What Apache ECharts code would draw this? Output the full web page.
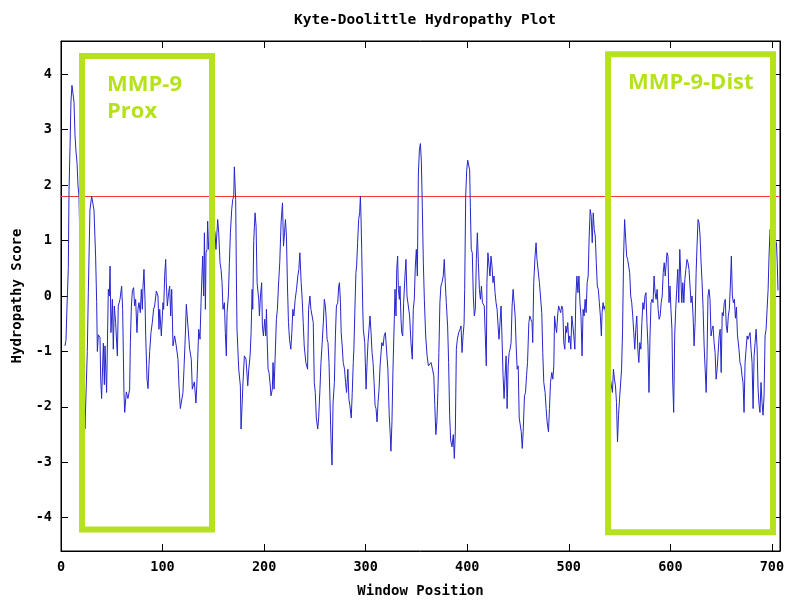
<!DOCTYPE html>
<html>
<head>
<meta charset="utf-8">
<title>Kyte-Doolittle Hydropathy Plot</title>
<script src="https://cdn.jsdelivr.net/npm/echarts@6/dist/echarts.min.js"></script>
<style>
  html, body { margin: 0; padding: 0; background: #fff; }
  #chart { width: 795px; height: 603px; }
</style>
</head>
<body>
<div id="chart"></div>
<script>
// window centre positions and their Kyte-Doolittle scores
const positions = [
  3.9, 4.9, 5.9, 7.2, 7.9, 8.9, 9.8, 10.8, 11.8, 12.8, 13.8, 14.8, 15.8, 16.7, 17.7, 19, 21, 23, 23.6, 24.9,
  25.9, 26.9, 28.5, 30.2, 31.2, 32.5, 34.1, 35.1, 35.8, 36.8, 38.4, 39.1, 40, 41.7, 42.7, 43.3, 44.9, 46.6, 47.6, 48.3,
  49.2, 50.6, 51.5, 52.5, 53.8, 55.5, 56.4, 58.1, 59.7, 60.7, 62, 62.7, 64.3, 65.9, 67.6, 68.3, 69.3, 70.3, 71.5, 72.5,
  73.5, 74.8, 75.8, 76.8, 78.1, 79.1, 80.1, 80.7, 81.7, 82.7, 83.4, 84.7, 85.7, 86.6, 87.3, 88.6, 89.9, 91.2, 92.2, 93.9,
  95.5, 96.5, 97.2, 98.8, 99.8, 100.4, 101.1, 102.1, 103.1, 103.7, 104.7, 106, 107, 108, 109, 110.3, 111.9, 113.5, 115.2, 116.2,
  117.5, 118.5, 120.1, 121.1, 122.4, 123.4, 125, 126.7, 128.3, 129.3, 131.3, 132.9, 133.9, 134.6, 135.6, 136.9, 137.9, 139.5, 140.5, 141.2,
  142.2, 142.8, 143.8, 144.4, 145.4, 147.7, 150, 151.7, 152.6, 154.3, 155.3, 156.6, 157.6, 158.6, 159.5, 160.9, 161.8, 162.8, 163.5, 164.8,
  165.8, 166.8, 168.1, 169.1, 170.1, 170.7, 171.4, 172, 172.7, 173.3, 174, 175, 176.6, 177.3, 178.3, 179.2, 180.6, 182.2, 183.9, 184.9,
  186.2, 187.2, 188.2, 188.8, 189.8, 191.1, 192.1, 193.1, 194.7, 195.4, 196.4, 197.6, 198.3, 199.3, 200.6, 201.6, 202.3, 202.9, 203.9, 204.8,
  205.8, 206.8, 208.1, 208.8, 209.8, 210.8, 212.1, 213.1, 214.1, 215.4, 216.7, 218.1, 219.1, 220.1, 221, 222, 223, 224, 225, 226.3,
  227.3, 228.3, 229.3, 230.6, 231.9, 233.2, 234.2, 235.2, 236.5, 237.5, 238.5, 239.5, 241.1, 242.8, 243.8, 245.1, 246.1, 247.1, 248.4, 249.4,
  250.4, 251.4, 252.8, 253.7, 255, 256, 257, 258.3, 259.3, 260.3, 261, 262, 262.9, 263.9, 264.9, 265.9, 266.9, 267.9, 269.2, 270.2,
  271.2, 272.5, 273.5, 274.2, 275.2, 275.9, 276.9, 277.9, 279.2, 280.2, 281.2, 282.5, 283.5, 284.5, 285.8, 286.8, 287.8, 288.4, 289.4, 290.4,
  291.1, 292.1, 293.1, 294.1, 294.8, 295.4, 296.1, 297.1, 297.7, 299.1, 300.4, 301.4, 302.3, 303.3, 304.3, 305.3, 306.3, 307.3, 308.3, 309.3,
  310.2, 311.2, 312.2, 313.2, 314.2, 315.9, 317.2, 318.2, 319.4, 320.7, 321.9, 323.2, 324.2, 324.9, 325.9, 326.9, 328.2, 328.9, 329.9, 330.6,
  331.5, 332.2, 333.2, 333.8, 334.8, 335.5, 336.5, 337.4, 338.7, 339.7, 340.7, 342, 343.3, 344.6, 345.9, 346.9, 347.9, 348.9, 349.9, 350.9,
  351.9, 352.9, 353.9, 354.8, 355.8, 356.8, 357.8, 359.1, 360.5, 361.8, 363.5, 364.4, 365.8, 367.1, 368.1, 369.1, 370.1, 371.1, 372.1, 373.1,
  374.1, 375.1, 376.4, 377.4, 378.4, 379.4, 380.7, 381.7, 382.7, 383.7, 385, 386.3, 387.3, 388.3, 389.3, 390.3, 391.6, 393, 393.9, 394.9,
  395.9, 396.9, 397.5, 398.5, 399.5, 400.5, 401.5, 402.4, 403.1, 404, 405, 406, 407, 408, 409, 410, 411, 412, 413, 414,
  415, 416.8, 417.8, 418.8, 419.4, 420.4, 421.4, 422.4, 423.4, 424.4, 425.4, 426.4, 427.4, 428.4, 429.4, 430.4, 431.3, 432.3, 433.3, 434.3,
  435.3, 436.3, 437.3, 438.3, 439.3, 440.3, 441.3, 442.2, 443.2, 444.2, 445.2, 446.2, 447.2, 448.2, 449.2, 450.2, 451.2, 452.2, 453.2, 454.2,
  455.1, 456.4, 457.4, 458.4, 459.4, 460.7, 461.7, 462.7, 463.8, 464.5, 465.5, 466.8, 467.8, 468.7, 470, 471.1, 472, 473.4, 474.4, 475.4,
  476.7, 477.7, 478.7, 480, 481, 482, 483.3, 484.3, 485.3, 486, 487, 488, 489, 490, 491, 492, 493.1, 494.1, 495.1, 496.1,
  497.1, 498, 499, 500, 501, 502, 503, 504, 505, 506, 507, 508, 509, 510, 511, 512, 513.1, 514.1, 515.1, 516.1,
  517.1, 518.1, 519.1, 520.1, 521.1, 522.1, 523.1, 524.1, 525.1, 526.1, 527.1, 528.1, 529.1, 530.1, 531.1, 532.1, 532.8, 533.8, 534.7, 535.7,
  537, 539, 541, 543, 544, 545, 546, 547, 548, 549, 550, 551, 552, 553, 554, 555, 556, 557, 558, 559,
  560, 561, 562, 563, 564, 565, 566, 567, 568, 569, 570, 571, 572, 573, 574, 575, 576, 577, 578, 579,
  580, 581, 582, 583, 584, 585, 586, 587, 588, 589, 590, 591, 592, 593, 594, 595, 596.7, 597.7, 598.7, 599.7,
  600.6, 601.6, 602.3, 603.3, 604.3, 605.3, 606.3, 607.3, 608.3, 609.3, 610.3, 611.3, 612.3, 613.3, 614.3, 615.3, 616.4, 617.4, 618.4, 619.4,
  620.4, 621.4, 622.4, 623.4, 624.4, 625.4, 626.3, 627.3, 628.3, 629.3, 630.3, 631.3, 632.3, 633.3, 634.3, 635.3, 636.1, 637.1, 638.1, 639.1,
  640.1, 641.1, 642.1, 643.1, 644.1, 645.1, 646.1, 647.1, 648.1, 649.1, 650.1, 651.1, 652.1, 653.1, 654.1, 655.1, 656.1, 657.1, 658.1, 659.1,
  660.1, 661.1, 662.1, 663.1, 664.1, 665.1, 666.1, 667.6, 668.6, 669.6, 670.6, 671.6, 672.6, 673.6, 674.6, 675.6, 676.5, 677.5, 678.5, 679.5,
  680.5, 681.5, 682.5, 683.5, 684.5, 685.5, 686.4, 687.4, 688.3, 689.3, 690.3, 691.3, 692.3, 693.3, 694.3, 695.3, 696.3, 697.2, 698.2, 700,
  701.5, 703.5, 704.5, 705.3, 706
];
const scores = [
  -0.9, -0.8, -0.2, 0.5, 1.9, 2.7, 3.5, 3.8, 3.8, 3.5, 2.9, 2.6, 2.4, 2.0, 1.8, 0.6, -0.8, -2.0, -2.4, -2.4,
  -1.0, 0.06, 1.55, 1.8, 1.8, 1.55, 0.7, -0.1, -1.0, -0.7, -0.75, -1.5, -1.85, -0.85, -1.6, -0.9, -1.74, 0.12, 0, 0.54,
  -0.66, -0.06, -0.96, -0.18, -0.48, -1.08, -0.18, -0.06, 0.18, -0.24, -1.74, -2.1, -1.73, -1.85, -1.68, -0.84, -0.18, 0.1, 0.15, -0.18,
  -0.06, -0.66, -0.24, -0.12, -0.3, 0.12, -0.24, 0.15, 0.48, -0.06, -0.72, -1.5, -1.67, -1.25, -1.0, -0.66, -0.48, -0.24, -0.18, 0.09,
  0, -0.6, -0.24, -0.72, -0.36, -0.12, -0.24, 0.36, 0.66, 0.24, -0.18, 0.06, 0.18, -0.36, 0.12, -0.9, -0.72, -0.9, -1.14, -1.62,
  -2.03, -2.03, -1.74, -1.32, -0.72, -0.15, -0.15, -0.96, -1.14, -1.68, -1.55, -1.93, -1.55, -1.14, -0.6, -0.78, -0.12, 0.72, 0, 1.14,
  -0.24, 0.78, 0.84, 1.35, 0.84, 1.0, 1.3, 1.14, 0.84, 1.38, 1.14, 0.6, 0.48, 0.24, -0.24, -0.12, -0.66, -1.08, -0.3, 0,
  0.6, 1.14, 1.56, 1.74, 1.8, 2.33, 2.33, 1.74, 0.36, -0.6, -0.9, -1.32, -1.62, -2.4, -1.98, -1.56, -1.08, -1.14, -1.62, -1.32,
  -1.08, -0.66, 0.12, -0.24, 1.0, 1.5, 1.26, 0.24, -0.06, -0.36, 0, 0.24, -0.54, -0.72, -0.42, -0.72, -0.24, -0.72, -1.32, -1.38,
  -1.56, -1.8, -1.68, -1.2, -1.68, -1.14, -0.42, -0.24, 0.18, 0.6, 1.32, 1.68, 0.9, 1.14, 1.38, 1.08, 0.18, -0.48, -0.78, -0.96,
  -0.66, -0.24, -0.36, -0.06, 0.12, 0.36, 0.48, 0.78, 0.24, -0.06, -0.48, -0.9, -1.2, -1.32, -0.24, 0, -0.24, -0.24, -0.48, -1.56,
  -1.74, -2.2, -2.4, -2.2, -1.68, -1.2, -0.9, -0.48, -0.06, -0.18, -0.36, -0.78, -0.84, -1.2, -1.9, -2.6, -3.05, -1.93, -1.56, -0.72,
  -0.18, -0.12, 0.18, 0.24, -0.12, -0.66, -0.9, -1.2, -1.32, -1.56, -1.74, -1.32, -1.86, -1.98, -2.2, -1.74, -1.2, -0.96, -0.24, 0.42,
  0.54, 0.96, 1.38, 1.5, 1.8, 1.44, 0.84, -0.18, -0.6, -0.84, -1.68, -1.2, -0.84, -0.6, -0.36, -0.66, -1.02, -1.2, -1.56, -1.98,
  -2.03, -2.27, -1.92, -1.68, -1.26, -0.84, -0.9, -0.72, -0.66, -0.66, -1.32, -2.15, -2.5, -2.8, -2.27, -1.32, -0.42, 0.12, -0.36, 0.48,
  0.72, 0.12, -0.06, 0.18, -0.42, -0.66, -0.72, -0.12, 0.36, 0.66, 0, 0, -0.36, -0.84, -1.14, -0.24, -0.06, 0.54, 0.84, 0.36,
  2.2, 2.63, 2.75, 2.45, 1.62, 0.6, -0.06, -0.72, -1.08, -1.26, -1.26, -1.2, -1.32, -1.44, -1.98, -2.5, -2.27, -1.74, -1.02, -0.12,
  0.18, 0.24, 0.36, 0.66, 0.24, -0.12, -0.54, -1.2, -2.15, -2.6, -2.72, -2.5, -2.93, -2.45, -0.96, -0.78, -0.66, -0.6, -0.54, -1.02,
  -0.72, -0.5, 0.12, 1.8, 2.27, 2.45, 2.45, 2.27, 1.6, 0.84, 0.78, 0, -0.36, -0.24, 0.66, 1.14, 0.6, 0.12, -0.06, 0.18,
  -0.12, -0.18, -0.72, -1.26, 0.24, 0.78, 0.81, 0.36, 0.72, 0.54, 0.24, 0.36, 0.06, -0.12, -0.24, -0.54, -0.78, -0.48, -0.18, -0.78,
  -1.44, -1.85, -1.44, -1.08, -2.03, -1.26, -1.02, -0.96, -0.84, -0.18, 0.12, -0.12, -0.36, -0.9, -1.32, -1.26, -2.2, -2.2, -2.45, -2.75,
  -2.45, -1.8, -1.74, -1.44, -1.2, -0.48, -0.36, -0.42, -0.48, -0.84, 0.24, 0.72, 0.96, 0.66, 0.66, 0.24, 0.24, -0.3, -1.02, -1.56,
  -1.74, -2.03, -2.27, -2.45, -2.03, -1.56, -1.38, -1.5, -1.26, -0.36, -0.54, -0.66, -0.36, -0.18, -0.18, -0.3, -0.18, -0.24, -0.84, -0.96,
  -0.54, -0.66, -0.48, -0.84, -0.72, -0.96, -0.36, -0.54, -0.72, -0.96, 0, 0.36, 0.06, 0.36, -0.12, -0.36, -1.08, -0.24, -0.36, -0.06,
  -0.3, 0.24, 0.36, 1.08, 1.56, 1.44, 0.96, 1.5, 1.2, 1.08, 0.6, 0.18, 0.12, -0.12, -0.36, -0.72, -0.3, -0.12, -0.24, -0.18,
  -0.6, -1.3, -1.5, -1.74, -1.32, -1.5, -1.62, -1.92, -2.63, -2.15, -1.86, -1.86, -1.32, -0.6, 0.72, 1.38, 1.38, 0.72, 0.66, 0.66,
  0.42, 0, -0.12, -0.36, -0.66, -0.96, -0.6, -0.36, -0.96, -1.2, -0.84, -0.96, -0.48, -0.12, -0.24, 0, 0.06, -0.48, -0.9, -1.74,
  -0.72, -0.12, -0.06, -0.12, 0.36, 0.06, -0.06, 0.12, -0.24, -0.42, -0.36, -0.12, 0, 0.42, 0.6, 0.36, 0.78, 0.72, -0.12, 0.18,
  -0.24, -0.6, -1.5, -2.1, -0.72, -0.24, 0.12, 0.48, -0.12, 0.84, 0.36, -0.12, 0.24, -0.12, 0.3, 0.48, 0.66, 0.6, 0.48, 0.18,
  -0.12, 0, -0.36, -0.9, -0.48, 0.42, 0.9, 1.38, 1.32, 1.08, 0.6, 0.24, -0.24, -0.9, -1.32, -1.74, -1.14, 0, 0.12, -0.06,
  -0.72, -0.6, -0.54, -0.84, -1.02, -1.5, -1.32, -1.02, -0.72, -0.6, -1.38, -0.3, -0.36, -0.12, -0.06, -0.54, -0.66, -0.36, -0.24, 0.18,
  0.72, 0, -0.12, -0.06, -0.4, -0.2, -0.7, -0.96, -1.2, -1.26, -1.44, -1.56, -2.1, -1.2, -0.96, -0.72, -0.78, -0.72, -0.66, -0.96,
  -1.2, -2.03, -1.08, -0.84, -0.6, -0.96, -1.68, -1.97, -2.1, -1.56, -1.92, -2.15, -1.8, -0.72, -0.6, -0.24, 0.12, 0.72, 1.2, 1.2,
  1.0, 1.0, 0.96, 0.6, 0.1
];

// y axis and x axis tick labels
const yTicks = [-4, -3, -2, -1, 0, 1, 2, 3, 4];
const xTicks = [0, 100, 200, 300, 400, 500, 600, 700];

// threshold line
const cutoff = 1.8;

// highlighted regions: [x start, x end, y top, y bottom]
const boxNames = ['MMP-9\nProx', 'MMP-9-Dist'];
const boxExtents = [
  [20.7, 148.7, 4.33, -4.21],
  [538.7, 701.1, 4.36, -4.26]
];

const green = '#b5e21c';
const monoFont = 'DejaVu Sans Mono';

const chart = echarts.init(document.getElementById('chart'));

const lineData = positions.map((x, i) => [x, scores[i]]);

const boxOffsets = [[23, 13], [18, 13]];
const areaData = boxExtents.map((b, i) => [
  { name: boxNames[i], coord: [b[0], b[2]], label: { offset: boxOffsets[i] } },
  { coord: [b[1], b[3]] }
]);

const frameAxis = {
  axisLine: { show: true, onZero: false, lineStyle: { color: '#000', width: 1 } },
  splitLine: { show: false }
};

chart.setOption({
  backgroundColor: '#fff',
  animation: false,
  title: {
    text: 'Kyte-Doolittle Hydropathy Plot',
    left: 420,
    top: 8,
    textAlign: 'center',
    textStyle: { fontFamily: monoFont, fontWeight: 'bold', fontSize: 14.5, color: '#000' }
  },
  grid: {
    left: 61, right: 15, top: 41, bottom: 50,
    show: true, borderColor: '#000', borderWidth: 1, backgroundColor: '#fff'
  },
  xAxis: [
    Object.assign({}, frameAxis, {
      type: 'value', min: 0, max: 708, position: 'bottom',
      name: 'Window Position', nameLocation: 'middle', nameGap: 33,
      nameTextStyle: { fontFamily: monoFont, fontWeight: 'bold', fontSize: 14, color: '#000' },
      axisTick: { inside: true, length: 7, customValues: xTicks, lineStyle: { color: '#000' } },
      axisLabel: { customValues: xTicks, margin: 9, fontFamily: monoFont, fontWeight: 'bold', fontSize: 13.5, color: '#000' }
    }),
    Object.assign({}, frameAxis, {
      type: 'value', min: 0, max: 708, position: 'top',
      axisTick: { inside: true, length: 7, customValues: xTicks, lineStyle: { color: '#000' } },
      axisLabel: { show: false }
    })
  ],
  yAxis: [
    Object.assign({}, frameAxis, {
      type: 'value', min: -4.6, max: 4.6, position: 'left',
      name: 'Hydropathy Score', nameLocation: 'middle', nameRotate: 90, nameGap: 36,
      nameTextStyle: { fontFamily: monoFont, fontWeight: 'bold', fontSize: 14, color: '#000' },
      axisTick: { inside: true, length: 7, customValues: yTicks, lineStyle: { color: '#000' } },
      axisLabel: { customValues: yTicks, margin: 9, fontFamily: monoFont, fontWeight: 'bold', fontSize: 13.5, color: '#000' }
    }),
    Object.assign({}, frameAxis, {
      type: 'value', min: -4.6, max: 4.6, position: 'right',
      axisTick: { inside: true, length: 7, customValues: yTicks, lineStyle: { color: '#000' } },
      axisLabel: { show: false }
    })
  ],
  series: [
    {
      name: 'Hydropathy',
      type: 'line',
      data: lineData,
      symbol: 'none',
      z: 3,
      lineStyle: { color: '#2626cc', width: 1 },
      markLine: {
        silent: true,
        symbol: 'none',
        z: 2,
        label: { show: false },
        lineStyle: { color: '#f03c3c', width: 1, type: 'solid' },
        data: [{ yAxis: cutoff }]
      }
    },
    {
      name: 'Regions',
      type: 'line',
      data: [],
      z: 10,
      markArea: {
        silent: true,
        z: 10,
        itemStyle: { color: 'rgba(0,0,0,0)', borderColor: green, borderWidth: 6 },
        label: {
          show: true,
          position: 'insideTopLeft',
          color: green,
          fontFamily: 'Open Sans',
          fontWeight: 'bold',
          fontSize: 22,
          lineHeight: 27
        },
        data: areaData
      }
    }
  ]
});
</script>
</body>
</html>
